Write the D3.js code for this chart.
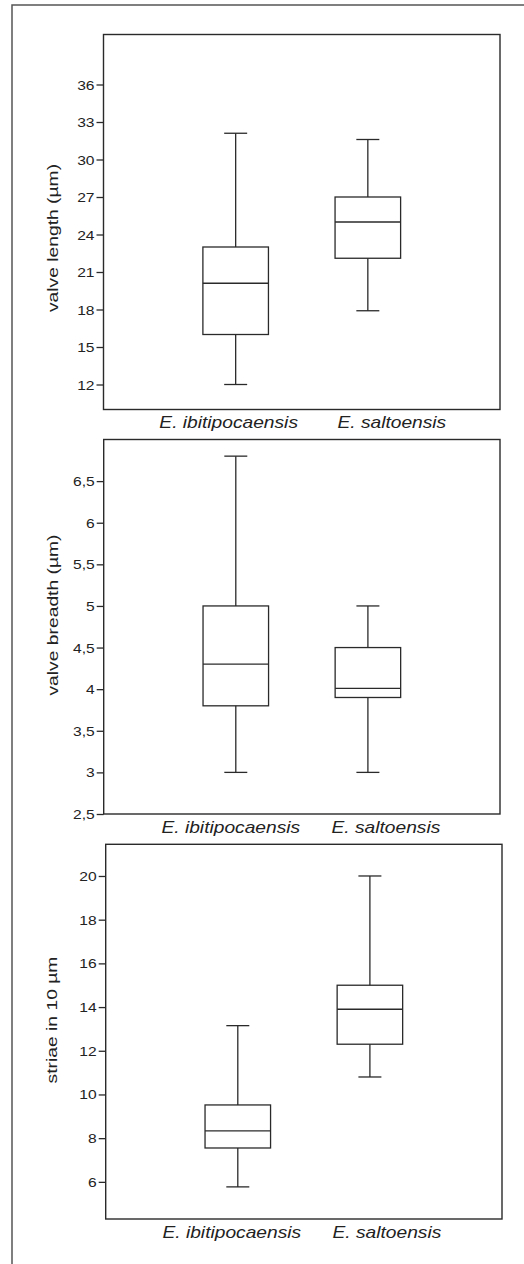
<!DOCTYPE html>
<html>
<head>
<meta charset="utf-8">
<script src="https://cdn.jsdelivr.net/npm/d3@7"></script>
<style>
  html, body { margin: 0; padding: 0; background: #fff; }
  svg { display: block; }
  text { font-family: "Liberation Sans", Arial, sans-serif; fill: #222; }
</style>
</head>
<body>
<script>
// ---------- data ----------
const categories = ["E. ibitipocaensis", "E. saltoensis"];

const lengthMin = [12.0, 17.9];
const lengthQ1  = [16.0, 22.1];
const lengthMed = [20.1, 25.0];
const lengthQ3  = [23.0, 27.0];
const lengthMax = [32.1, 31.6];
const lengthTicks = [12, 15, 18, 21, 24, 27, 30, 33, 36];

const breadthMin = [3.0, 3.0];
const breadthQ1  = [3.8, 3.9];
const breadthMed = [4.3, 4.01];
const breadthQ3  = [5.0, 4.5];
const breadthMax = [6.8, 5.0];
const breadthTicks = [2.5, 3, 3.5, 4, 4.5, 5, 5.5, 6, 6.5];

const striaeMin = [5.77, 10.8];
const striaeQ1  = [7.55, 12.3];
const striaeMed = [8.33, 13.9];
const striaeQ3  = [9.52, 15.0];
const striaeMax = [13.15, 20.0];
const striaeTicks = [6, 8, 10, 12, 14, 16, 18, 20];

const titles = ["valve length (µm)", "valve breadth (µm)", "striae in 10 µm"];

// ---------- layout ----------
const W = 524, H = 1264;
const panels = [
  { title: titles[0], domain: [10, 40], ticks: lengthTicks,
    min: lengthMin, q1: lengthQ1, med: lengthMed, q3: lengthQ3, max: lengthMax,
    box: { x0: 103.5, x1: 500, y0: 34.5, y1: 409.5 }, titleX: 58, titleY: 238, labelShift: [-7, 24] },
  { title: titles[1], domain: [2.5, 7], ticks: breadthTicks,
    min: breadthMin, q1: breadthQ1, med: breadthMed, q3: breadthQ3, max: breadthMax,
    box: { x0: 103.7, x1: 500, y0: 439.5, y1: 814 }, titleX: 58, titleY: 615, labelShift: [-5, 18] },
  { title: titles[2], domain: [4.3, 21.45], ticks: striaeTicks,
    min: striaeMin, q1: striaeQ1, med: striaeMed, q3: striaeQ3, max: striaeMax,
    box: { x0: 105.7, x1: 502, y0: 844.3, y1: 1219 }, titleX: 57, titleY: 1020, labelShift: [-6, 17] }
];

const ink = "#2a2a2a";
const fmt = v => String(v).replace(".", ",");

const svg = d3.select("body").append("svg")
  .attr("width", W).attr("height", H);

// outer frame (left/top visible)
svg.append("rect")
  .attr("x", 12).attr("y", 5).attr("width", 530).attr("height", 1280)
  .attr("fill", "none").attr("stroke", "#555").attr("stroke-width", 1.5);

panels.forEach(p => {
  const b = p.box;
  const x = d3.scalePoint().domain(categories).range([b.x0, b.x1]).padding(1);
  const y = d3.scaleLinear().domain(p.domain).range([b.y1, b.y0]);
  const g = svg.append("g");

  // frame
  g.append("rect")
    .attr("x", b.x0).attr("y", b.y0)
    .attr("width", b.x1 - b.x0).attr("height", b.y1 - b.y0)
    .attr("fill", "none").attr("stroke", ink).attr("stroke-width", 1.4);

  // y axis
  const ax = g.append("g")
    .attr("transform", `translate(${b.x0},0)`)
    .call(d3.axisLeft(y).tickValues(p.ticks).tickFormat(fmt).tickSize(7).tickPadding(2));
  ax.select(".domain").remove();
  ax.selectAll(".tick line").attr("stroke", ink).attr("stroke-width", 1.3);
  ax.selectAll(".tick text")
    .attr("x", null).attr("dy", "0.36em")
    .attr("transform", "translate(-9,0) scale(1.25,1)")
    .style("font-size", "12.5px").style("font-family", "'Liberation Sans', Arial, sans-serif")
    .attr("fill", "#222");

  // y title
  g.append("text")
    .attr("transform", `translate(${p.titleX},${p.titleY}) rotate(-90) scale(1.33,1)`)
    .attr("text-anchor", "middle")
    .style("font-size", "14.5px")
    .text(p.title);

  // boxes
  const half = x.step() * 0.248;
  const cap = x.step() * 0.087;
  categories.forEach((c, i) => {
    const cx = x(c);
    const bg = g.append("g").attr("stroke", ink).attr("stroke-width", 1.3).attr("fill", "none");
    bg.append("line").attr("x1", cx).attr("x2", cx).attr("y1", y(p.max[i])).attr("y2", y(p.q3[i]));
    bg.append("line").attr("x1", cx).attr("x2", cx).attr("y1", y(p.q1[i])).attr("y2", y(p.min[i]));
    bg.append("line").attr("x1", cx - cap).attr("x2", cx + cap).attr("y1", y(p.max[i])).attr("y2", y(p.max[i]));
    bg.append("line").attr("x1", cx - cap).attr("x2", cx + cap).attr("y1", y(p.min[i])).attr("y2", y(p.min[i]));
    bg.append("rect")
      .attr("x", cx - half).attr("y", y(p.q3[i]))
      .attr("width", 2 * half).attr("height", y(p.q1[i]) - y(p.q3[i]));
    bg.append("line").attr("x1", cx - half).attr("x2", cx + half).attr("y1", y(p.med[i])).attr("y2", y(p.med[i]));

    // category label
    g.append("text")
      .attr("transform", `translate(${cx + p.labelShift[i]},${b.y1 + 18.5}) scale(1.2,1)`)
      .attr("text-anchor", "middle")
      .style("font-size", "16px")
      .style("font-style", "italic")
      .text(c);
  });
});
</script>
</body>
</html>
